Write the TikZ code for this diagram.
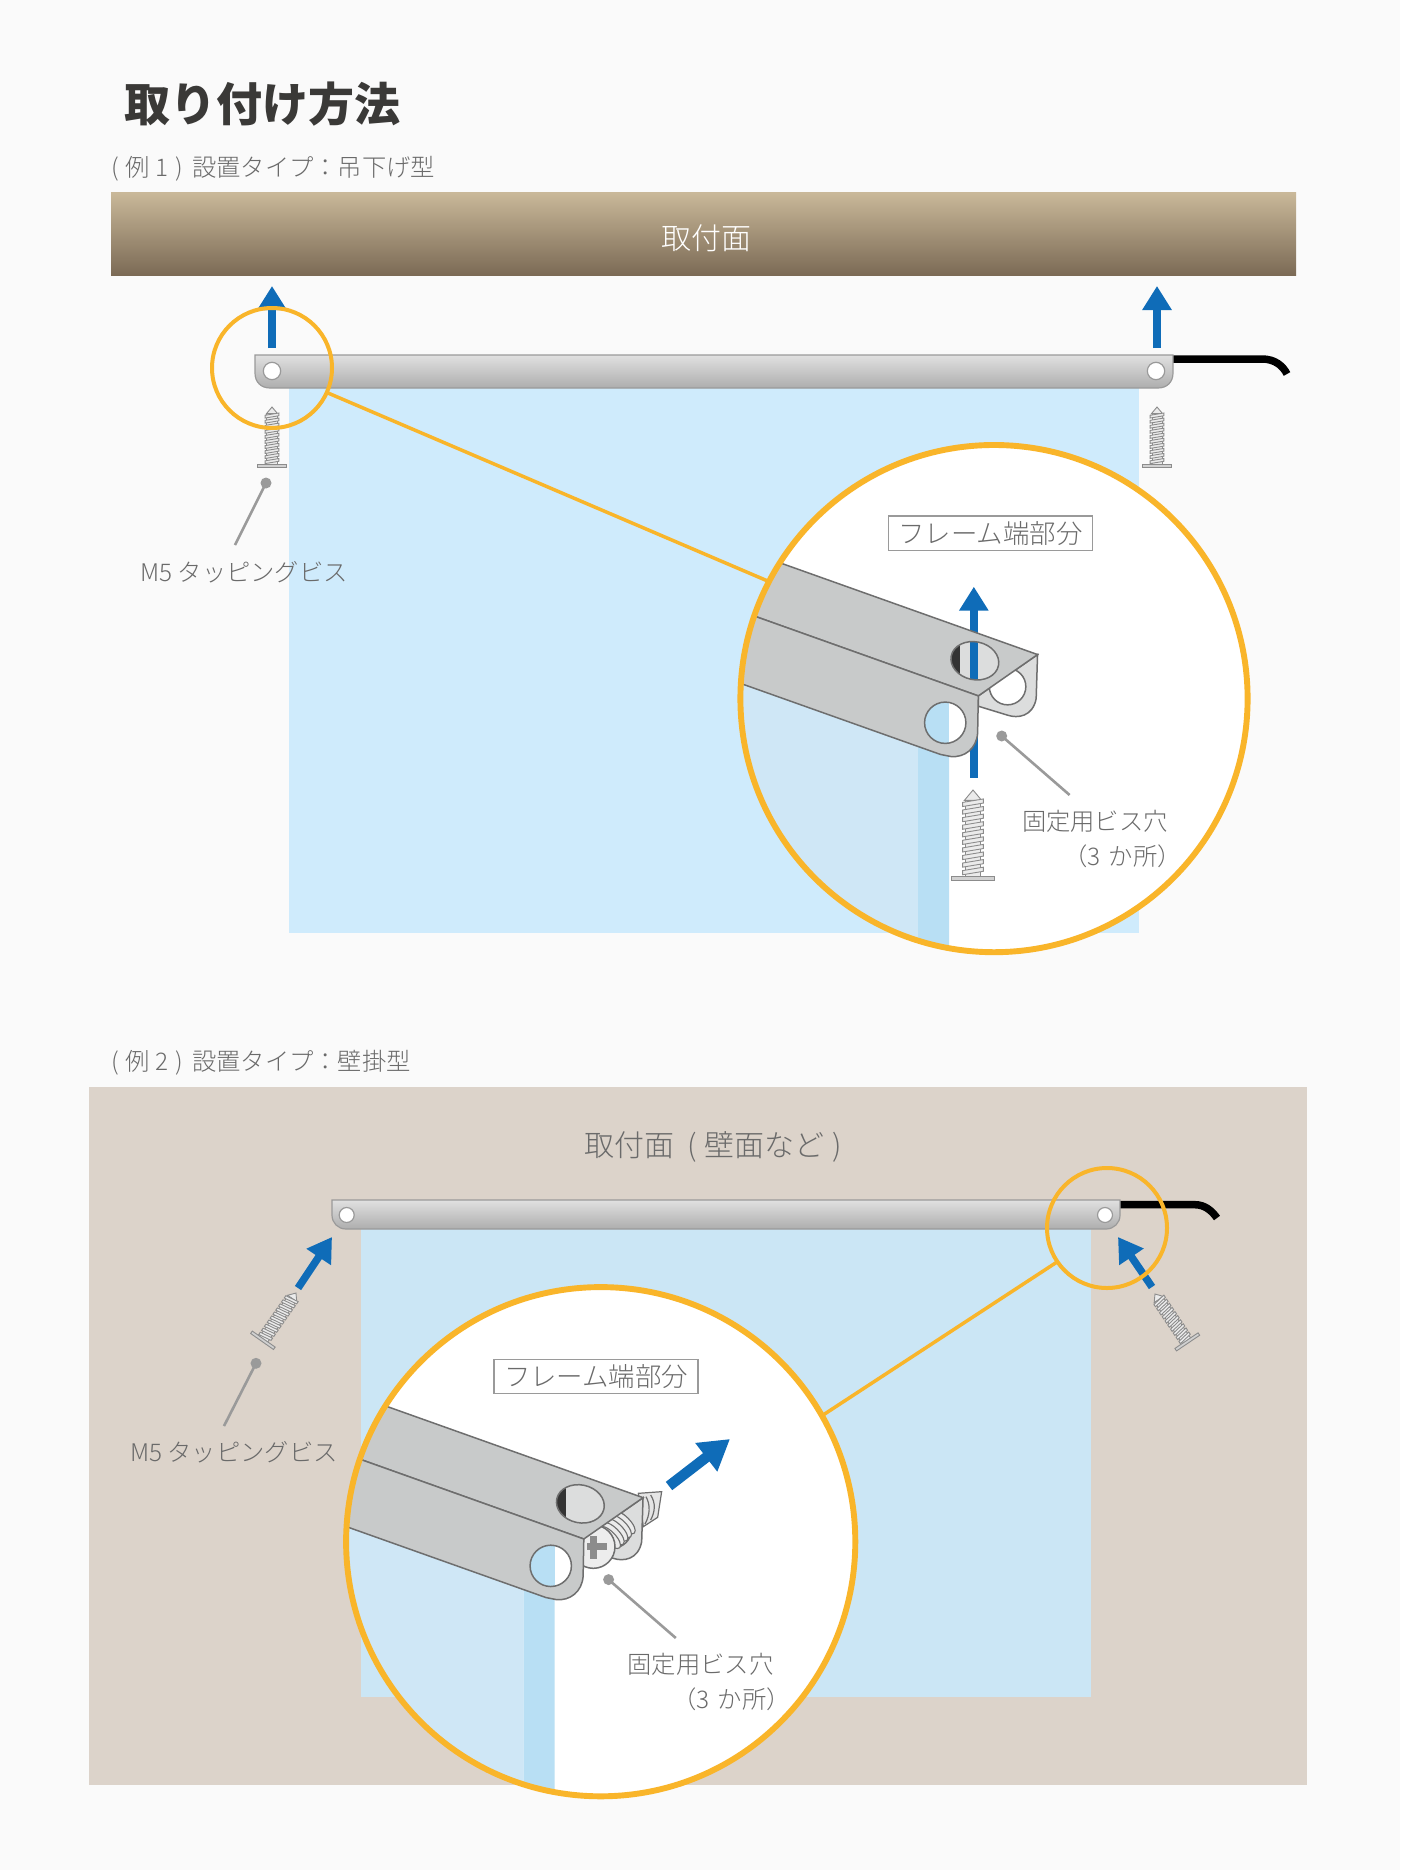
\documentclass[tikz,border=0pt]{standalone}
\usepackage{fontspec}
\setmainfont{Noto Sans CJK JP}
\newfontfamily\lightjp{Noto Sans CJK JP Light}
\usetikzlibrary{arrows.meta}
\definecolor{pagebg}{HTML}{FAFAFA}
\definecolor{bandtop}{HTML}{C9B899}
\definecolor{bandbot}{HTML}{7B6A55}
\definecolor{skyA}{HTML}{CFEBFC}
\definecolor{skyB}{HTML}{CBE6F5}
\definecolor{skyLight}{HTML}{CFE7F6}
\definecolor{skyStrip}{HTML}{B8DFF4}
\definecolor{wallc}{HTML}{DCD3CA}
\definecolor{orangec}{HTML}{F9B52A}
\definecolor{bluec}{HTML}{0F6CB8}
\definecolor{plate}{HTML}{C8CACA}
\definecolor{flangec}{HTML}{DCDDDD}
\definecolor{edgec}{HTML}{6E6E6E}
\definecolor{leader}{HTML}{9A9A9A}
\definecolor{txtc}{HTML}{6A6A6A}
\definecolor{titlec}{HTML}{3A3937}
\tikzset{
  barshape/.style={draw=leader,line width=1.2pt,top color=black!12,bottom color=black!32},
  barhole/.style={fill=white,draw=leader,line width=1.2pt},
  cord/.style={line width=7.5pt,black},
  ring/.style={draw=orangec,line width=4pt},
  bigring/.style={draw=orangec,line width=5.9pt},
  tieline/.style={draw=orangec,line width=3.5pt},
  bluearrow/.style={draw=bluec,line width=7.5pt,-{Triangle[length=24pt,width=28pt]}},
  bigbluearrow/.style={draw=bluec,line width=10.5pt,-{Triangle[length=30pt,width=34pt]}},
  leaderline/.style={draw=leader,line width=2.6pt},
  leaderdot/.style={fill=leader},
  lbl/.style={text=txtc,font=\lightjp\fontsize{24.3}{28}\selectfont,inner sep=0pt},
  boxlbl/.style={text=txtc,font=\lightjp\fontsize{26.4}{30}\selectfont,draw=leader,line width=1.2pt,fill=white,minimum width=204pt,minimum height=34.5pt,inner sep=0pt},
  plateedge/.style={draw=edgec,line width=1.5pt},
  localA/.style={shift={(720,430)},x=.3444pt,y=-.3444pt},
  localB/.style={shift={(325.5,1273.1)},x=.3444pt,y=-.3444pt},
  localC/.style={shift={(560,1430)},x=.3333pt,y=-.3333pt},
}
% screw: #1 tip position, #2 rotation, #3 scale
\newcommand\myscrew[3]{%
\begin{scope}[shift={#1},rotate=#2,x=#3pt,y=-#3pt,draw=black!45,line width=.9pt,fill=black!8]
  \filldraw (0,0)--(-25,30)--(25,30)--cycle;
  \filldraw (-22,30) rectangle (22,252);
  \foreach \t in {30,52,...,228}{
    \filldraw (-30,\t+6)--(30,\t-4)--(30,\t+8)--(-30,\t+18)--cycle;
  }
  \filldraw[fill=black!18] (-62,250) rectangle (62,263);
\end{scope}}
\newcommand\detailbg{%
  \fill[skyLight] (-100,560)--(575,800)--(575,1600)--(-100,1600)--cycle;
  \fill[skyStrip] (575,800)--(665,840)--(665,1600)--(575,1600)--cycle;
}
\newcommand\flangepart{%
  \filldraw[fill=flangec,plateedge] (922,652)--(918,780) .. controls (908,832) and (865,838) .. (835,828)--(750,802)--(750,772)--cycle;
}
\newcommand\flangehole{%
  \filldraw[fill=white,plateedge] (835,745) circle (53);
}
\newcommand\plates{%
  \filldraw[fill=plate,plateedge] (-100,288)--(922,652)--(750,772)--(-100,469)--cycle;
  \filldraw[fill=plate,plateedge] (-100,469)--(750,772)--(748,880) .. controls (745,925) and (710,952) .. (670,948)--(640,942)--(-100,679)--cycle;
}
\newcommand\fronthole{%
  \begin{scope}
    \clip (654,850) circle (60);
    \fill[white] (590,785) rectangle (720,915);
    \fill[skyStrip] (590,785) rectangle (665,915);
  \end{scope}
  \draw[plateedge] (654,850) circle (60);
}
\newcommand\tophole[1]{%
  \begin{scope}
    \clip (740,670) ellipse [x radius=70,y radius=55,rotate=-12];
    \fill[flangec] (660,600) rectangle (820,740);
    \fill[black!80] (660,600) rectangle (698,740);
    #1
  \end{scope}
  \draw[plateedge] (740,670) ellipse [x radius=70,y radius=55,rotate=-12];
}
\begin{document}
\begin{tikzpicture}[x=1pt,y=-1pt]
\useasboundingbox (0,0) rectangle (1400,1870);
\fill[pagebg] (0,0) rectangle (1400,1870);

% ---------- headings
\node[text=titlec,font=\fontsize{46}{50}\bfseries\selectfont,inner sep=0pt] (title) at (262.5,104) {取り付け方法};
\node[lbl,anchor=west] (ex1) at (111,169) {(\hspace{7pt}例 1\hspace{7pt})\hspace{9pt}設置タイプ：吊下げ型};
\node[lbl,anchor=west] (ex2) at (111,1063) {(\hspace{7pt}例 2\hspace{7pt})\hspace{9pt}設置タイプ：壁掛型};

% ---------- example 1
\shade[top color=bandtop,bottom color=bandbot] (111,192.5) rectangle (1296,275.5);
\node[text=white,font=\lightjp\fontsize{30}{32}\selectfont,inner sep=0pt] (mountA) at (706,238.5) {取付面};
\fill[skyA] (289,388) rectangle (1139,933);

\coordinate (aA1) at (272,348); \coordinate (aA2) at (272,286);
\coordinate (aB1) at (1157,348); \coordinate (aB2) at (1157,286);
\draw[bluearrow] (aA1) -- (aA2);
\draw[bluearrow] (aB1) -- (aB2);

\coordinate (cordA) at (1173,359);
\draw[cord] (cordA) -- (1262,359) .. controls (1275,359) and (1283,366) .. (1287,374);
\path[barshape] (255,355) -- (1173,355) -- (1173,373) .. controls (1173,382) and (1167,388) .. (1158,388) -- (270,388) .. controls (261,388) and (255,382) .. (255,373) -- cycle;
\filldraw[barhole] (272,371) circle (8.7);
\filldraw[barhole] (1156,371) circle (8.7);

\myscrew{(272,407)}{0}{.23}
\myscrew{(1157,407)}{0}{.23}

\coordinate (ldA1) at (266,483); \coordinate (ldA2) at (235,545);
\draw[leaderline] (ldA1) -- (ldA2);
\fill[leaderdot] (ldA1) circle (5.5);
\node[lbl] (m5A) at (244,572) {M5 タッピングビス};

\node[circle,minimum size=120pt,inner sep=0pt,ring] (ringA) at (272,368) {};
\coordinate (tieA1) at (328,393); \coordinate (tieA2) at (770,582);
\draw[tieline] (tieA1) -- (tieA2);

\begin{scope}
  \clip (994,698.6) circle (253.6);
  \fill[white] (730,430) rectangle (1260,970);
  \begin{scope}[localA]
    \detailbg
    \flangepart
    \flangehole
    \coordinate (aC1) at (737,1010); \coordinate (aC2) at (737,455);
    \draw[bluearrow] (aC1) -- (aC2);
    \plates
    \tophole{\fill[bluec] (727,600) rectangle (748,740);}
    \fronthole
  \end{scope}
\end{scope}
\myscrew{(973,790)}{0}{.3444}
\draw[bigring] (994,698.6) circle (253.6);
\node[boxlbl] (partA) at (990.5,533.2) {\raisebox{-1pt}{フレーム端部分}};
\coordinate (ldB1) at (1001.7,736); \coordinate (ldB2) at (1069.6,795);
\draw[leaderline] (ldB1) -- (ldB2);
\fill[leaderdot] (ldB1) circle (5.5);
\node[lbl,anchor=east] (holeA1) at (1168,821.6) {固定用ビス穴};
\node[lbl,anchor=east] (holeA2) at (1182,856) {（3\hspace{3pt} か所）};

% ---------- example 2
\fill[wallc] (89,1087) rectangle (1307,1785);
\node[text=txtc,font=\lightjp\fontsize{30}{32}\selectfont,inner sep=0pt] (mountB) at (713.5,1146.5) {取付面\hspace{6pt} (\hspace{8pt}壁面など\hspace{8pt})};
\fill[skyB] (361,1229) rectangle (1091,1697.4);

\coordinate (cordB) at (1120,1204.7);
\draw[cord] (cordB) -- (1195,1204.7) .. controls (1205,1204.7) and (1212,1211) .. (1217,1218);
\path[barshape] (332,1200) -- (1120,1200) -- (1120,1215) .. controls (1120,1223) and (1114,1229) .. (1106,1229) -- (346,1229) .. controls (338,1229) and (332,1223) .. (332,1215) -- cycle;
\filldraw[barhole] (346.7,1215) circle (7.5);
\filldraw[barhole] (1105,1215) circle (7.5);

\coordinate (aD1) at (298,1288); \coordinate (aD2) at (332,1237);
\coordinate (aE1) at (1152,1287); \coordinate (aE2) at (1118,1237);
\draw[bluearrow] (aD1) -- (aD2);
\draw[bluearrow] (aE1) -- (aE2);
\myscrew{(296,1293)}{-35}{.225}
\myscrew{(1155,1294)}{34}{.225}

\coordinate (ldC1) at (256,1363.3); \coordinate (ldC2) at (224,1426);
\draw[leaderline] (ldC1) -- (ldC2);
\fill[leaderdot] (ldC1) circle (5.5);
\node[lbl] (m5B) at (234,1452) {M5 タッピングビス};

\node[circle,minimum size=120pt,inner sep=0pt,ring] (ringB) at (1107,1228) {};
\coordinate (tieB1) at (1057,1262); \coordinate (tieB2) at (820,1417);
\draw[tieline] (tieB1) -- (tieB2);

\begin{scope}
  \clip (600.7,1541.7) circle (254.6);
  \fill[white] (340,1280) rectangle (860,1800);
  \begin{scope}[localB] \detailbg \end{scope}
  \begin{scope}[localC]
    % screw tip behind the flange
    \filldraw[fill=black!10,draw=edgec,line width=1.2pt] (235,190)--(305,185)--(293,262)--(250,290)--cycle;
    \draw[draw=edgec,line width=1.2pt] (258,200) .. controls (272,225) and (270,255) .. (255,282);
    \draw[draw=edgec,line width=1.2pt] (272,195) .. controls (288,220) and (285,245) .. (272,270);
  \end{scope}
  \begin{scope}[localB]
    \flangepart
    \flangehole
  \end{scope}
  \begin{scope}[localC]
    \foreach \i in {4,3,2,1,0}{
      \filldraw[fill=black!8,draw=edgec,line width=1.1pt] (148+\i*11,322-\i*11) ellipse [x radius=18,y radius=44,rotate=45];
    }
    \filldraw[fill=black!7,draw=edgec,line width=1.5pt] (100,350) circle (65);
    \fill[black!45] (82,338) rectangle (140,360);
    \fill[black!45] (90,318) rectangle (112,388);
  \end{scope}
  \begin{scope}[localB]
    \plates
    \tophole{}
    \fronthole
  \end{scope}
\end{scope}
\coordinate (aF1) at (669,1486); \coordinate (aF2) at (730,1439);
\draw[bigbluearrow] (aF1) -- (aF2);
\draw[bigring] (600.7,1541.7) circle (254.6);
\node[boxlbl] (partB) at (596,1376.5) {\raisebox{-1pt}{フレーム端部分}};
\coordinate (ldD1) at (608.6,1579.6); \coordinate (ldD2) at (675.8,1638);
\draw[leaderline] (ldD1) -- (ldD2);
\fill[leaderdot] (ldD1) circle (5.5);
\node[lbl,anchor=east] (holeB1) at (773.5,1664.7) {固定用ビス穴};
\node[lbl,anchor=east] (holeB2) at (791,1699.5) {（3\hspace{3pt} か所）};
\end{tikzpicture}
\end{document}
